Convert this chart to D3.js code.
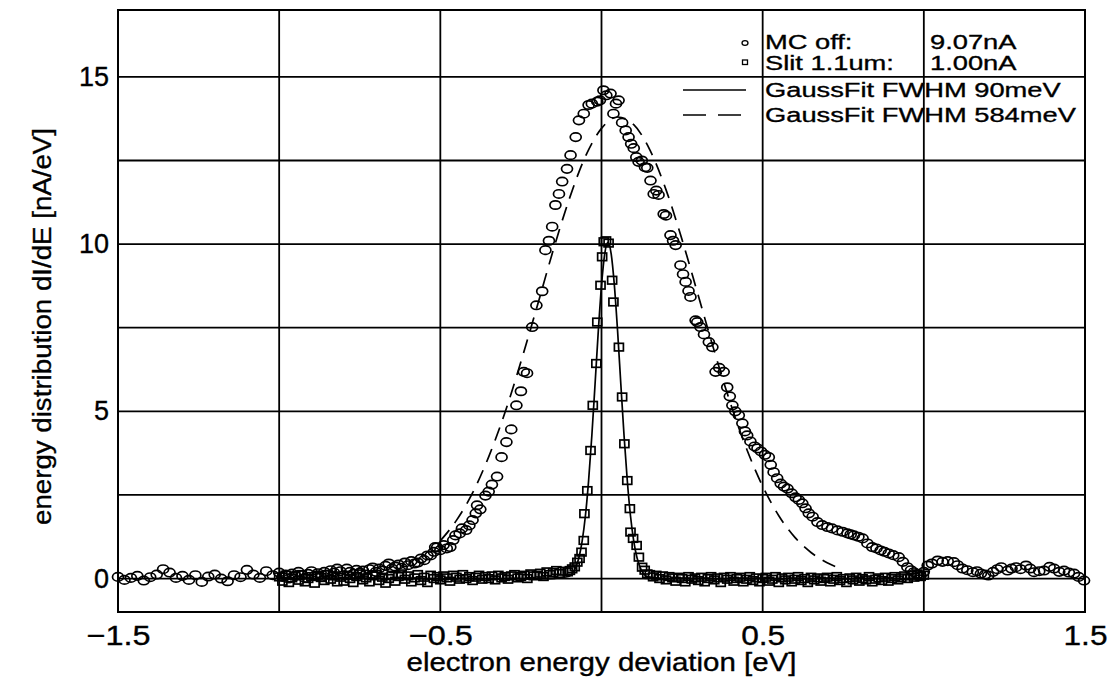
<!DOCTYPE html>
<html>
<head>
<meta charset="utf-8">
<script src="https://cdn.jsdelivr.net/npm/d3@7"></script>
<style>
html,body{margin:0;padding:0;background:#fff;}
svg{display:block;}
text{font-family:"Liberation Sans",Arial,Helvetica,sans-serif;fill:#000;stroke:#000;stroke-width:0.35px;}
</style>
</head>
<body>
<svg id="chart" width="1112" height="681"></svg>
<script>
// ---------------- data ----------------
const xTickValues = [-1.5, -0.5, 0.5, 1.5];
const yTickValues = [0, 5, 10, 15];
const xGridValues = [-1, -0.5, 0, 0.5, 1];
const yGridValues = [0, 2.5, 5, 7.5, 10, 12.5, 15];

const xTitle = "electron energy deviation [eV]";
const yTitle = "energy distribution dI/dE [nA/eV]";

const legendNames = ["MC off:", "Slit 1.1um:"];
const legendCurrents = ["9.07nA", "1.00nA"];
const fitNames = ["GaussFit FWHM 90meV", "GaussFit FWHM 584meV"];

// MC off (circles) [eV, nA/eV]
const mcOff = [
[-1.50,0.05],[-1.48,-0.04],[-1.46,0.02],[-1.44,0.08],[-1.42,-0.06],[-1.40,0.04],[-1.38,0.12],[-1.36,0.28],[-1.34,0.18],[-1.32,0.02],
[-1.30,0.08],[-1.28,-0.04],[-1.26,0.10],[-1.24,-0.10],[-1.22,0.06],[-1.20,0.12],[-1.18,0.00],[-1.16,-0.08],[-1.14,0.10],[-1.12,0.04],
[-1.10,0.26],[-1.08,0.12],[-1.06,0.02],[-1.04,0.22],[-1.02,0.10],
[-1.00,0.18],[-0.99,0.05],[-0.98,0.12],[-0.97,0.00],[-0.96,0.15],[-0.95,0.08],[-0.94,0.20],[-0.93,0.10],[-0.92,0.02],[-0.91,0.14],
[-0.90,0.22],[-0.89,0.08],[-0.88,0.16],[-0.87,0.05],[-0.86,0.20],[-0.85,0.12],[-0.84,0.25],[-0.83,0.18],[-0.82,0.30],[-0.81,0.22],
[-0.80,0.10],[-0.79,0.30],[-0.78,0.20],[-0.77,0.14],[-0.76,0.26],[-0.75,0.18],[-0.74,0.24],[-0.73,0.12],[-0.72,0.28],[-0.71,0.33],
[-0.70,0.20],[-0.69,0.30],[-0.68,0.24],[-0.67,0.38],[-0.66,0.45],[-0.65,0.30],[-0.64,0.36],[-0.63,0.42],[-0.62,0.32],[-0.61,0.48],
[-0.60,0.40],[-0.59,0.52],[-0.58,0.45],[-0.57,0.48],[-0.56,0.60],[-0.55,0.55],[-0.54,0.69],[-0.53,0.69],[-0.52,0.80],[-0.516,0.94],
[-0.51,0.93],[-0.50,0.85],[-0.49,1.00],[-0.48,0.90],[-0.469,0.94],[-0.46,1.15],[-0.453,1.29],[-0.44,1.35],[-0.433,1.50],[-0.42,1.45],
[-0.41,1.59],[-0.40,1.75],[-0.39,1.95],[-0.386,2.19],[-0.376,2.07],[-0.36,2.48],[-0.35,2.60],[-0.34,2.81],[-0.324,3.05],[-0.31,3.63],
[-0.295,4.08],[-0.28,4.46],[-0.264,5.18],[-0.25,5.60],[-0.241,6.18],[-0.231,6.14],[-0.215,7.52],[-0.202,8.17],[-0.184,8.59],[-0.174,9.82],
[-0.163,10.10],[-0.153,10.52],[-0.143,11.17],[-0.132,11.50],[-0.122,11.87],[-0.107,12.25],[-0.096,12.66],[-0.08,13.20],[-0.07,13.70],[-0.055,13.90],
[-0.04,14.16],[-0.03,14.20],[-0.013,14.26],[-0.005,14.30],[0.006,14.60],[0.015,14.45],[0.028,14.50],[0.037,13.90],[0.045,14.20],[0.053,14.30],
[0.064,13.63],[0.075,13.40],[0.084,13.20],[0.092,13.00],[0.10,12.87],[0.108,12.60],[0.115,12.46],[0.125,12.50],[0.135,12.30],[0.142,12.28],
[0.152,11.90],[0.162,11.50],[0.17,11.60],[0.177,11.47],[0.193,10.90],[0.20,10.85],[0.214,10.27],[0.222,10.10],[0.23,9.97],[0.245,9.37],
[0.253,9.10],[0.261,8.87],[0.27,8.60],[0.276,8.42],[0.292,7.72],[0.297,7.67],[0.307,7.52],[0.318,7.30],[0.333,7.07],[0.344,6.92],
[0.354,6.18],[0.365,6.30],[0.379,6.18],[0.39,5.72],[0.398,5.45],[0.406,5.18],[0.415,5.00],[0.426,4.88],[0.437,4.64],[0.445,4.40],
[0.452,4.28],[0.462,4.10],[0.475,3.95],[0.484,3.89],[0.495,3.80],[0.507,3.70],[0.519,3.63],[0.525,3.40],[0.534,3.18],[0.545,3.00],
[0.556,2.84],[0.566,2.75],[0.577,2.69],[0.59,2.55],[0.602,2.43],[0.612,2.35],[0.623,2.25],[0.633,2.10],[0.643,1.95],[0.655,1.85],
[0.67,1.69],[0.685,1.60],[0.701,1.54],[0.715,1.50],[0.732,1.44],[0.748,1.40],[0.763,1.35],[0.773,1.32],[0.783,1.29],[0.797,1.25],
[0.81,1.20],[0.825,1.05],[0.84,0.94],[0.853,0.90],[0.866,0.84],[0.878,0.80],[0.891,0.75],[0.905,0.70],[0.922,0.64],[0.935,0.50],
[0.949,0.34],[0.96,0.25],[0.969,0.19],[0.98,0.12],[0.99,0.09],[1.00,0.20],[1.012,0.39],[1.025,0.45],[1.043,0.54],[1.058,0.50],
[1.074,0.52],[1.093,0.49],[1.105,0.40],[1.12,0.30],[1.135,0.25],[1.152,0.19],[1.165,0.22],[1.177,0.15],[1.19,0.12],[1.20,0.09],
[1.215,0.20],[1.228,0.28],[1.24,0.34],[1.26,0.24],[1.272,0.30],[1.286,0.34],[1.30,0.28],[1.317,0.39],[1.33,0.30],[1.342,0.19],
[1.358,0.22],[1.373,0.24],[1.39,0.35],[1.404,0.30],[1.42,0.20],[1.435,0.24],[1.45,0.18],[1.466,0.15],[1.48,0.05],[1.497,-0.06]
];

// Slit 1.1um (squares) [eV, nA/eV]
const slit = [
[-1.00,0.05],[-0.99,-0.08],[-0.98,0.10],[-0.97,-0.12],[-0.96,0.02],[-0.95,0.08],[-0.94,-0.05],[-0.93,0.12],[-0.92,-0.10],[-0.91,0.00],
[-0.90,0.06],[-0.89,-0.14],[-0.88,0.10],[-0.87,0.03],[-0.86,-0.06],[-0.85,0.12],[-0.84,-0.02],[-0.83,0.08],[-0.82,-0.10],[-0.81,0.04],
[-0.80,-0.08],[-0.79,0.10],[-0.78,0.00],[-0.77,-0.12],[-0.76,0.06],[-0.75,0.14],[-0.74,-0.04],[-0.73,0.02],[-0.72,-0.10],[-0.71,0.08],
[-0.70,0.12],[-0.69,-0.06],[-0.68,0.04],[-0.67,-0.14],[-0.66,0.00],[-0.65,0.10],[-0.64,-0.08],[-0.63,0.06],[-0.62,0.14],[-0.61,-0.02],
[-0.60,0.08],[-0.59,-0.10],[-0.58,0.02],[-0.57,0.12],[-0.56,-0.06],[-0.55,0.04],[-0.54,-0.12],[-0.53,0.10],[-0.52,0.00],[-0.51,0.06],
[-0.50,-0.04],[-0.49,0.08],[-0.48,0.02],[-0.47,-0.08],[-0.46,0.10],[-0.45,0.04],[-0.44,-0.02],[-0.43,0.12],[-0.42,0.00],[-0.41,0.06],
[-0.40,-0.06],[-0.39,0.04],[-0.38,0.10],[-0.37,-0.02],[-0.36,0.06],[-0.35,0.00],[-0.34,0.08],[-0.33,-0.04],[-0.32,0.10],[-0.31,0.02],
[-0.30,0.06],[-0.29,-0.02],[-0.28,0.08],[-0.27,0.12],[-0.26,0.02],[-0.25,0.06],[-0.24,0.10],[-0.23,0.00],[-0.22,0.14],[-0.21,0.08],
[-0.20,0.10],[-0.19,0.16],[-0.18,0.06],[-0.17,0.20],[-0.16,0.12],[-0.15,0.18],[-0.14,0.24],[-0.13,0.15],[-0.12,0.22],
[-0.105,0.20],[-0.098,0.24],[-0.091,0.29],[-0.083,0.35],[-0.075,0.49],[-0.068,0.60],[-0.062,0.79],[-0.055,1.14],[-0.053,1.94],[-0.044,2.63],
[-0.034,3.83],[-0.027,5.18],[-0.016,6.43],[-0.013,7.67],[-0.003,8.77],[0.002,9.62],[0.007,10.07],[0.014,10.10],[0.022,10.03],[0.033,8.92],
[0.037,8.27],[0.054,6.92],[0.064,5.43],[0.071,4.03],[0.08,2.93],[0.088,2.09],[0.09,1.39],[0.098,1.20],[0.109,0.99],[0.116,0.64],
[0.126,0.34],[0.134,0.25],[0.142,0.14],
[0.15,0.12],[0.16,0.05],[0.17,0.10],[0.18,0.00],[0.19,0.08],
[0.20,-0.04],[0.21,0.06],[0.22,0.02],[0.23,-0.08],[0.24,0.04],[0.25,0.00],[0.26,-0.10],[0.27,0.06],[0.28,-0.02],[0.29,0.02],
[0.30,-0.06],[0.31,0.04],[0.32,-0.10],[0.33,0.00],[0.34,0.06],[0.35,-0.04],[0.36,0.02],[0.37,-0.12],[0.38,0.04],[0.39,-0.02],
[0.40,0.06],[0.41,-0.08],[0.42,0.00],[0.43,0.04],[0.44,-0.10],[0.45,-0.02],[0.46,0.06],[0.47,-0.06],[0.48,0.02],[0.49,-0.10],
[0.50,0.00],[0.51,0.04],[0.52,-0.08],[0.53,-0.02],[0.54,0.06],[0.55,-0.12],[0.56,0.02],[0.57,-0.04],[0.58,0.04],[0.59,-0.10],
[0.60,-0.02],[0.61,0.06],[0.62,-0.06],[0.63,0.00],[0.64,-0.12],[0.65,0.04],[0.66,-0.04],[0.67,0.02],[0.68,-0.08],[0.69,0.00],
[0.70,0.04],[0.71,-0.10],[0.72,-0.02],[0.73,0.06],[0.74,-0.06],[0.75,0.00],[0.76,-0.12],[0.77,0.02],[0.78,-0.04],[0.79,0.04],
[0.80,-0.08],[0.81,0.00],[0.82,-0.04],[0.83,0.06],[0.84,-0.10],[0.85,-0.02],[0.86,0.02],[0.87,-0.06],[0.88,0.04],[0.89,-0.08],
[0.90,0.00],[0.91,0.06],[0.92,-0.04],[0.93,0.02],[0.94,0.08],[0.95,0.00],[0.96,0.10],[0.97,0.04],[0.98,0.14],[0.99,0.06],[1.00,0.10]
];

// Gauss fit FWHM 90 meV (solid)
const fitNarrow = [
[-1.00,0],[-0.40,0],[-0.16,0],[-0.13,0.02],[-0.10,0.07],[-0.08,0.33],[-0.07,0.63],[-0.06,1.12],[-0.05,1.87],[-0.04,2.93],
[-0.03,4.27],[-0.02,5.81],[-0.01,7.39],[0.00,8.76],[0.01,9.71],[0.02,10.05],[0.03,9.71],[0.04,8.76],[0.05,7.39],[0.06,5.81],
[0.07,4.27],[0.08,2.93],[0.09,1.87],[0.10,1.12],[0.11,0.63],[0.12,0.33],[0.14,0.07],[0.17,0.02],[0.20,0],[0.60,0],[1.00,0]
];

// Gauss fit FWHM 584 meV (dashed)
const fitWide = [
[-0.50,1.13],[-0.45,1.74],[-0.40,2.56],[-0.35,3.64],[-0.30,4.95],[-0.25,6.48],[-0.20,8.13],[-0.15,9.81],[-0.10,11.35],[-0.05,12.62],
[0.00,13.46],[0.05,13.80],[0.10,13.57],[0.15,12.82],[0.20,11.63],[0.25,10.13],[0.30,8.47],[0.35,6.80],[0.40,5.24],[0.45,3.88],
[0.50,2.76],[0.55,1.88],[0.60,1.23],[0.65,0.78],[0.70,0.47],[0.74,0.30]
];

// ---------------- drawing ----------------
const W = 1112, H = 681;
const svg = d3.select("#chart");
svg.append("rect").attr("width", W).attr("height", H).attr("fill", "#fff");

const x = d3.scaleLinear().domain([-1.5, 1.5]).range([118, 1085]);
const y = d3.scaleLinear().domain([-1, 17]).range([612, 10]);

const grid = svg.append("g").attr("stroke", "#000").attr("stroke-width", 1.8);
grid.selectAll("line.gx").data(xGridValues).join("line")
  .attr("x1", d => x(d)).attr("x2", d => x(d))
  .attr("y1", y(-1)).attr("y2", y(17));
grid.selectAll("line.gy").data(yGridValues).join("line")
  .attr("x1", x(-1.5)).attr("x2", x(1.5))
  .attr("y1", d => y(d)).attr("y2", d => y(d));
svg.append("rect")
  .attr("x", x(-1.5)).attr("y", y(17))
  .attr("width", x(1.5) - x(-1.5)).attr("height", y(-1) - y(17))
  .attr("fill", "none").attr("stroke", "#000").attr("stroke-width", 2);

// axes (labels only)
const fmtX = d3.format(".1f");
const xAxis = svg.append("g").attr("transform", `translate(0,${y(-1)})`)
  .call(d3.axisBottom(x).tickValues(xTickValues).tickSize(0).tickPadding(13).tickFormat(fmtX));
xAxis.select(".domain").remove();
xAxis.selectAll("text").attr("font-size", 28).attr("font-family", "Liberation Sans, Arial, sans-serif")
  .attr("fill", "#000").attr("transform", "scale(1.08,1)")
  .attr("x", function(d) { return 0; });
// keep scaled labels centred on their tick
xAxis.selectAll(".tick text").attr("transform", null)
  .attr("textLength", d => (d < 0 ? 64 : 44)).attr("lengthAdjust", "spacingAndGlyphs");

const yAxis = svg.append("g").attr("transform", `translate(${x(-1.5)},0)`)
  .call(d3.axisLeft(y).tickValues(yTickValues).tickSize(0).tickPadding(9).tickFormat(d3.format("d")));
yAxis.select(".domain").remove();
yAxis.selectAll("text").attr("font-size", 27).attr("font-family", "Liberation Sans, Arial, sans-serif").attr("fill", "#000");

// axis titles
svg.append("text").attr("x", (x(-1.5) + x(1.5)) / 2).attr("y", 671)
  .attr("text-anchor", "middle").attr("font-size", 25)
  .attr("textLength", 390).attr("lengthAdjust", "spacingAndGlyphs")
  .text(xTitle);
svg.append("text").attr("transform", `translate(51,${(128 + 525) / 2}) rotate(-90)`)
  .attr("text-anchor", "middle").attr("font-size", 25)
  .attr("textLength", 397).attr("lengthAdjust", "spacingAndGlyphs")
  .text(yTitle);

// fit lines
const line = d3.line().x(d => x(d[0])).y(d => y(d[1])).curve(d3.curveMonotoneX);
svg.append("path").datum(fitNarrow).attr("d", line)
  .attr("fill", "none").attr("stroke", "#000").attr("stroke-width", 1.7);
svg.append("path").datum(fitWide).attr("d", line)
  .attr("fill", "none").attr("stroke", "#000").attr("stroke-width", 1.7)
  .attr("stroke-dasharray", "14,9");

// markers
svg.append("g").selectAll("rect").data(slit).join("rect")
  .attr("x", d => x(d[0]) - 4.5).attr("y", d => y(d[1]) - 3.8)
  .attr("width", 9).attr("height", 7.6)
  .attr("fill", "none").attr("stroke", "#000").attr("stroke-width", 1.7);
svg.append("g").selectAll("ellipse").data(mcOff).join("ellipse")
  .attr("cx", d => x(d[0])).attr("cy", d => y(d[1]))
  .attr("rx", 5.5).attr("ry", 4.2)
  .attr("fill", "none").attr("stroke", "#000").attr("stroke-width", 1.7);

// legend
const leg = svg.append("g");
const rowY = [49, 70];
leg.append("ellipse").attr("cx", 745).attr("cy", 43).attr("rx", 3).attr("ry", 2.4)
  .attr("fill", "none").attr("stroke", "#000").attr("stroke-width", 1.3);
leg.append("rect").attr("x", 742.5).attr("y", 60).attr("width", 5).attr("height", 4.5)
  .attr("fill", "none").attr("stroke", "#000").attr("stroke-width", 1.3);
legendNames.forEach((t, i) => {
  leg.append("text").attr("transform", `translate(765,${rowY[i]}) scale(1.3,1)`)
    .attr("font-size", 21).text(t);
  leg.append("text").attr("transform", `translate(930,${rowY[i]}) scale(1.3,1)`)
    .attr("font-size", 21).text(legendCurrents[i]);
});
const fitRowY = [97, 122];
const fitLineY = [90, 115];
leg.append("line").attr("x1", 683).attr("x2", 746).attr("y1", fitLineY[0]).attr("y2", fitLineY[0])
  .attr("stroke", "#000").attr("stroke-width", 1.6);
leg.append("line").attr("x1", 683).attr("x2", 746).attr("y1", fitLineY[1]).attr("y2", fitLineY[1])
  .attr("stroke", "#000").attr("stroke-width", 1.6).attr("stroke-dasharray", "23,12");
fitNames.forEach((t, i) => {
  leg.append("text").attr("transform", `translate(765,${fitRowY[i]}) scale(1.3,1)`)
    .attr("font-size", 21).text(t);
});
</script>
</body>
</html>
